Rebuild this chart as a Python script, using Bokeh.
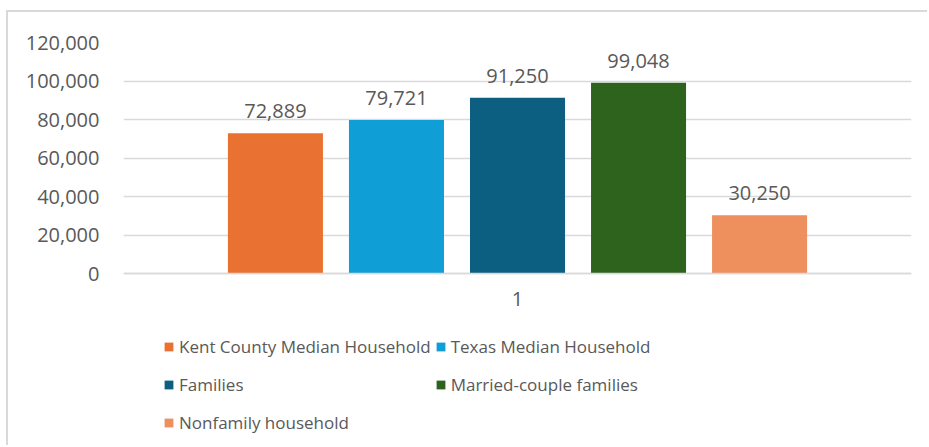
from bokeh.plotting import figure
from bokeh.models import (ColumnDataSource, FactorRange, Range1d, FixedTicker,
                          NumeralTickFormatter, LabelSet, Legend, LegendItem)
from bokeh.core.properties import value
from bokeh.transform import dodge
from bokeh.embed import file_html
from bokeh.resources import INLINE

# ---- data ----
category = ["1"]
names = ["Kent County Median Household", "Texas Median Household", "Families",
         "Married-couple families", "Nonfamily household"]
values = [72889, 79721, 91250, 99048, 30250]
colors = ["#E97132", "#0F9ED5", "#0D5F82", "#2E631E", "#EE8F5E"]
y_ticks = [0, 20000, 40000, 60000, 80000, 100000, 120000]

TXT = "#595959"
FONT = "Open Sans"
GRID = "#D9D9D9"

# layout: the value axis spans 231 px; the frame continues below it to hold the legend
AXIS_PX = 231
FRAME_H = 403
Y_MAX = y_ticks[-1]
Y_MIN = -Y_MAX * (FRAME_H - AXIS_PX) / AXIS_PX

p = figure(frame_width=788, frame_height=FRAME_H,
           x_range=FactorRange(factors=category, range_padding=0),
           y_range=Range1d(Y_MIN, Y_MAX),
           output_backend="svg", toolbar_location=None,
           min_border_left=115, min_border_right=16,
           min_border_top=30, min_border_bottom=0)
p.styles = {"border-top": "2px solid #D9D9D9", "border-left": "2px solid #D9D9D9",
            "margin-left": "6px", "margin-top": "10px"}
p.outline_line_color = None
p.background_fill_color = "white"
p.border_fill_color = "white"

p.xgrid.visible = False
p.ygrid.grid_line_color = GRID
p.ygrid.grid_line_width = 1.5
p.ygrid.ticker = FixedTicker(ticks=y_ticks)

p.yaxis.ticker = FixedTicker(ticks=y_ticks)
p.yaxis.formatter = NumeralTickFormatter(format="0,0")
p.yaxis.axis_line_color = None
p.yaxis.major_tick_line_color = None
p.yaxis.minor_tick_line_color = None
p.yaxis.major_label_standoff = 18
p.yaxis.major_label_text_font = FONT
p.yaxis.major_label_text_font_size = "20px"
p.yaxis.major_label_text_color = TXT

p.xaxis.fixed_location = 0
p.xaxis.axis_line_color = GRID
p.xaxis.axis_line_width = 1.5
p.xaxis.major_tick_line_color = None
p.xaxis.minor_tick_line_color = None
p.xaxis.major_label_standoff = 12
p.xaxis.major_label_text_font = FONT
p.xaxis.major_label_text_font_size = "20px"
p.xaxis.major_label_text_color = TXT

n = len(values)
step = 0.1536
bw = 0.1206
items = []
for i in range(n):
    src = ColumnDataSource(dict(cat=category, val=[values[i]], lbl=[f"{values[i]:,}"]))
    xd = dodge("cat", (i - (n - 1) / 2) * step, range=p.x_range)
    r = p.vbar(x=xd, top="val", bottom=0, width=bw, source=src,
               fill_color=colors[i], line_color=None)
    items.append(LegendItem(label=names[i], renderers=[r]))
    p.add_layout(LabelSet(x=xd, y="val", text="lbl", source=src,
                          y_offset=22, text_align="center", text_baseline="middle",
                          text_font=value(FONT), text_font_size=value("20px"),
                          text_color=TXT))

legend = Legend(items=items, orientation="horizontal", ncols=2,
                location=(40, 6),
                glyph_width=11, glyph_height=11, label_height=34,
                label_standoff=5, spacing=4, padding=0, margin=0,
                border_line_color=None, background_fill_alpha=0,
                label_text_font=FONT, label_text_font_size="17px",
                label_text_color=TXT)
p.add_layout(legend, "center")

open("out.html", "w").write(file_html(p, INLINE))
